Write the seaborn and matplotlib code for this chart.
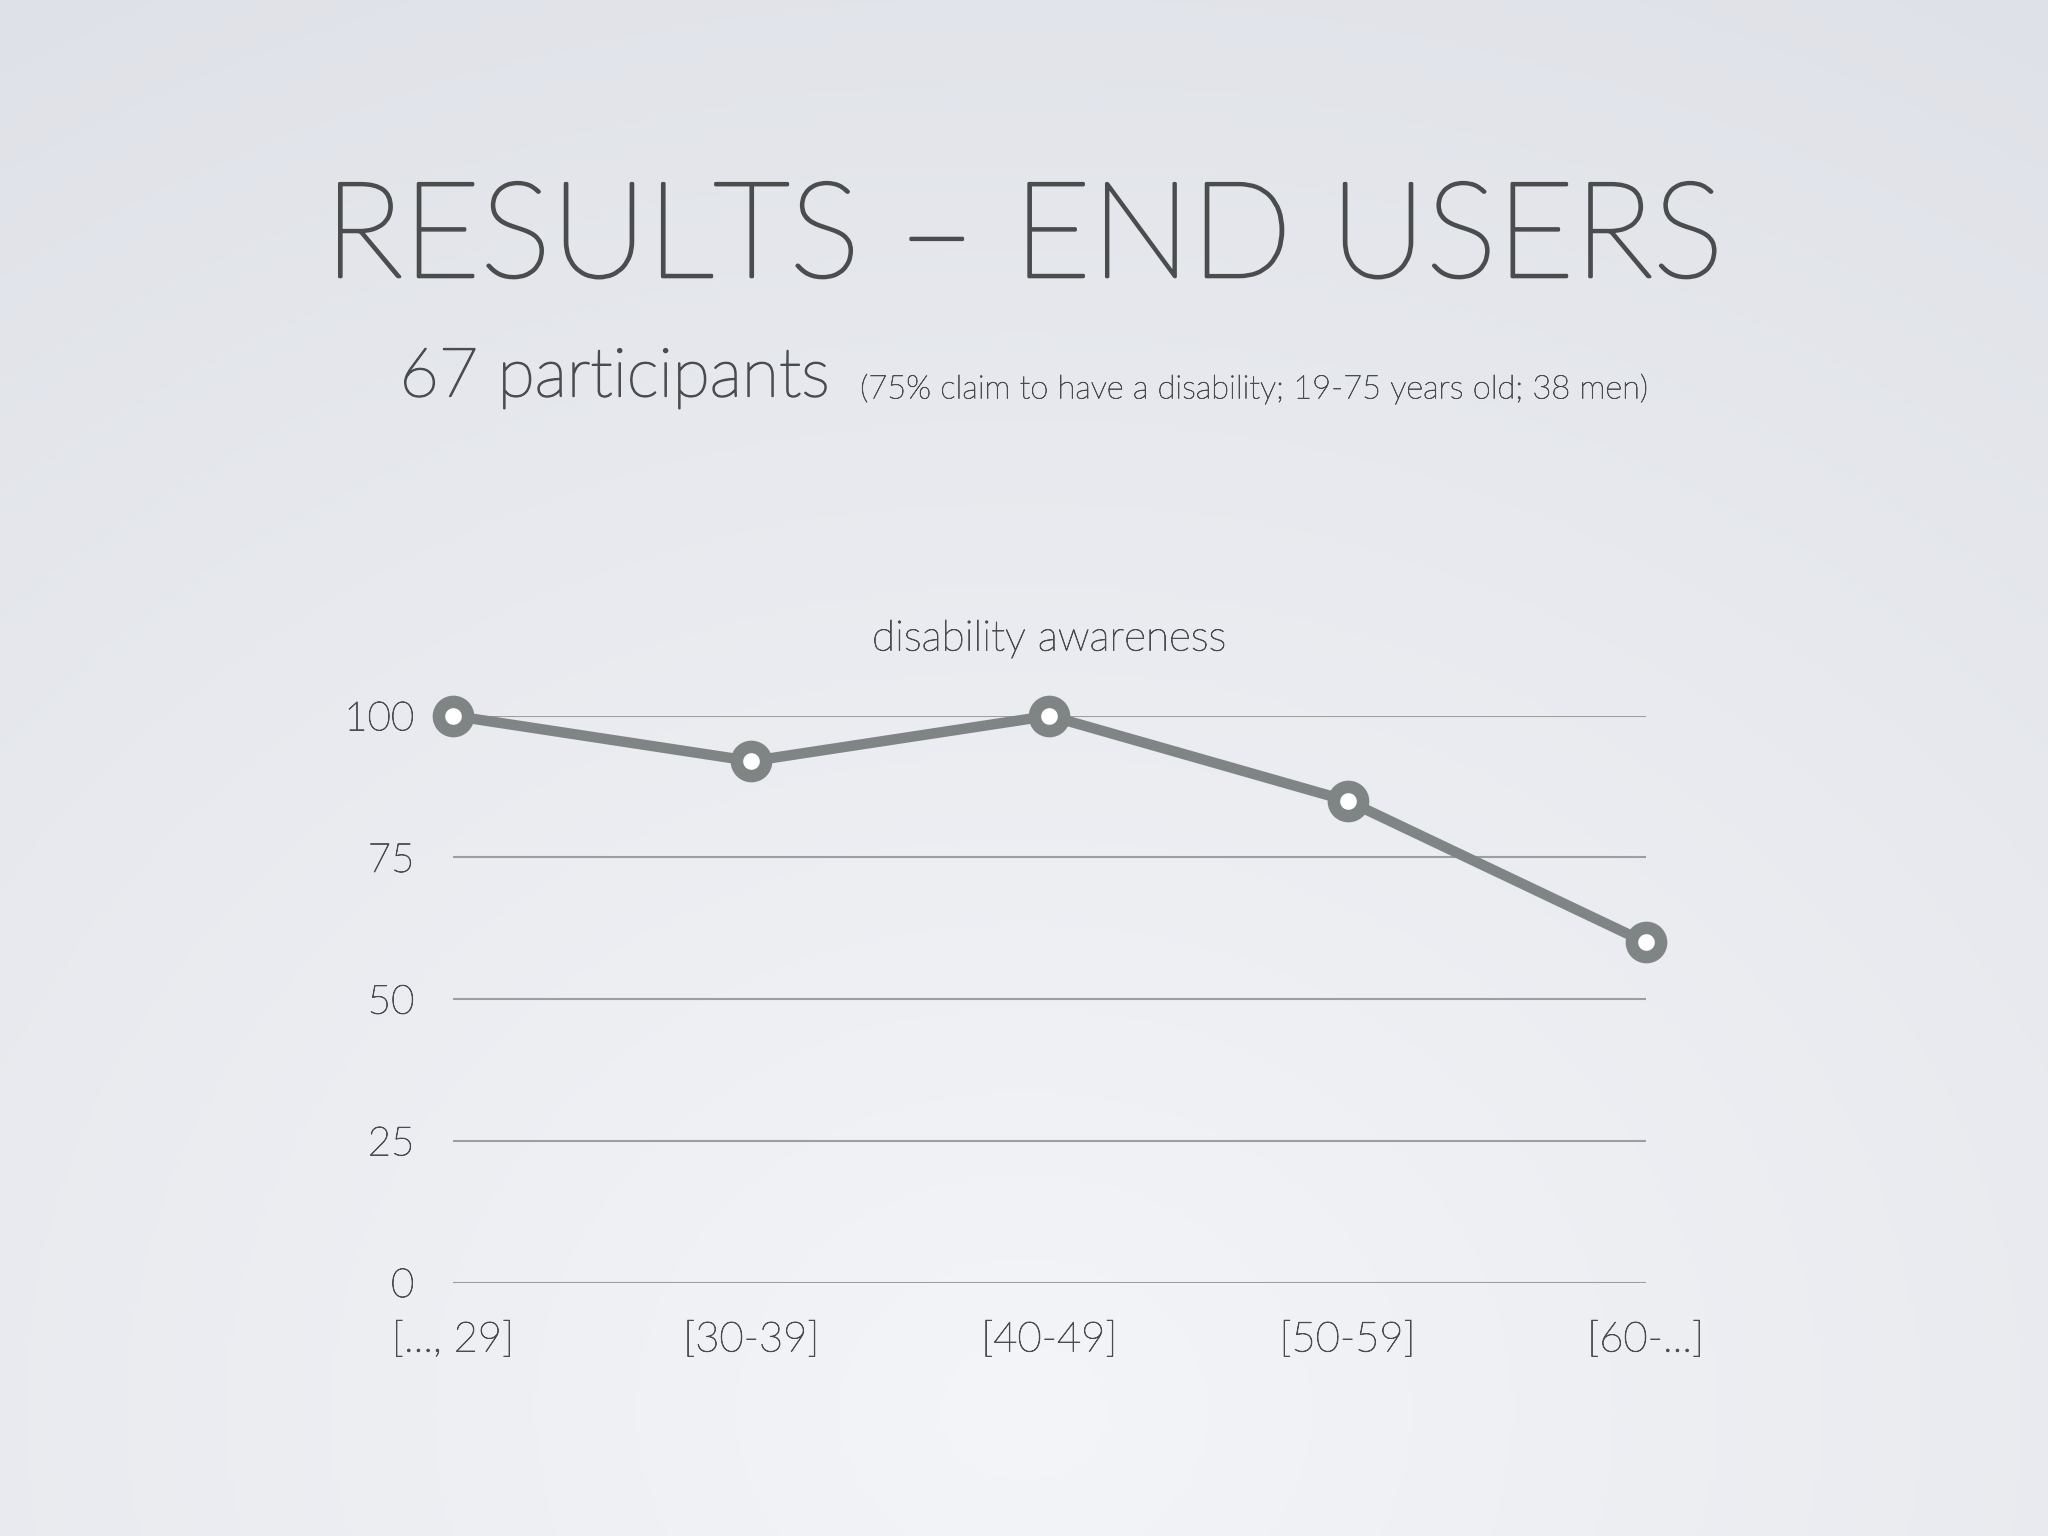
import numpy as np
import pandas as pd
import matplotlib.pyplot as plt
import matplotlib.patheffects as pe
import seaborn as sns

# data
age_groups = ['[..., 29]', '[30-39]', '[40-49]', '[50-59]', '[60-...]']
awareness = [100, 92, 100, 85, 60]
y_ticks = [0, 25, 50, 75, 100]

df = pd.DataFrame({'age': age_groups, 'awareness': awareness})

sns.set_theme(style='white')
plt.rcParams['font.family'] = ['Lato', 'DejaVu Sans']

fig = plt.figure(figsize=(20.48, 15.36), dpi=100)

# slide background: soft radial gradient, lighter near the bottom centre
bg = fig.add_axes([0, 0, 1, 1], zorder=-10)
yy, xx = np.mgrid[0:1:300j, 0:1:400j]
r = np.sqrt(((xx - 0.5) * 1.1) ** 2 + ((yy - 0.92) * 1.0) ** 2)
light = np.array([0.955, 0.96, 0.972])
dark = np.array([0.875, 0.885, 0.91])
t = np.clip(r / 1.05, 0, 1)[..., None]
bg.imshow(light * (1 - t) + dark * t, extent=[0, 1, 0, 1], aspect='auto', origin='upper')
bg.axis('off')

txt = '#4a4c4e'


def thicken(w, color=txt):
    # Lato Light is a bit thinner than the slide's font, add a thin outline
    return [pe.withStroke(linewidth=w, foreground=color)]


fig.text(0.5, 0.843, 'RESULTS – END USERS', ha='center', va='center',
         fontsize=96, color=txt, fontweight='light', path_effects=thicken(2.2))
fig.text(0.195, 0.754, '67 participants', ha='left', va='center',
         fontsize=49, color=txt, fontweight='light', path_effects=thicken(1.2))
fig.text(0.42, 0.747, '(75% claim to have a disability; 19-75 years old; 38 men)',
         ha='left', va='center', fontsize=23.5, color=txt, fontweight='light',
         path_effects=thicken(0.5))

ax = fig.add_axes([0.2213, 0.165, 0.5823, 0.369])
ax.patch.set_alpha(0)
sns.lineplot(data=df, x='age', y='awareness', ax=ax, sort=False,
             color='#7f8484', linewidth=7.5, marker='o', markersize=21,
             markeredgewidth=9, markerfacecolor='white', markeredgecolor='#7f8484',
             clip_on=False, zorder=5)

ax.set_xlim(0, len(age_groups) - 1)
ax.set_ylim(0, 100)
ax.set_yticks(y_ticks)
ax.set_yticklabels([str(v) for v in y_ticks])
ax.yaxis.grid(True, color='#9c9ea0', linewidth=1.5)
ax.xaxis.grid(False)
ax.set_axisbelow(True)
for s in ax.spines.values():
    s.set_visible(False)
ax.tick_params(axis='y', length=0, pad=28, labelsize=29, labelcolor=txt)
ax.tick_params(axis='x', length=0, pad=28, labelsize=30, labelcolor=txt)
for lab in ax.get_xticklabels() + ax.get_yticklabels():
    lab.set_fontweight('light')
    lab.set_path_effects(thicken(0.6))
ax.set_xlabel('')
ax.set_ylabel('')
ax.set_title('disability awareness', fontsize=30.5, color=txt, fontweight='light',
             pad=47, path_effects=thicken(0.6))

fig.savefig('out.png', dpi=100)
